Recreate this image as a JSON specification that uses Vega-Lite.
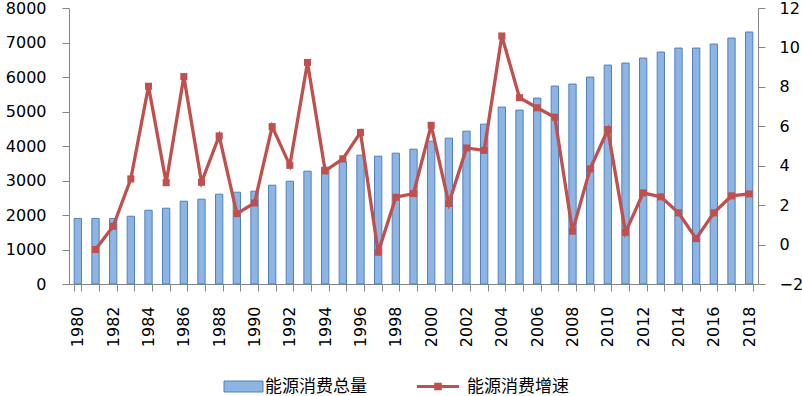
{
  "$schema": "https://vega.github.io/schema/vega-lite/v6.json",
  "width": 689,
  "height": 276,
  "autosize": {"type": "none"},
  "padding": {"left": 69, "top": 8, "right": 44, "bottom": 112},
  "background": "white",
  "config": {
    "view": {"stroke": null},
    "font": "DejaVu Sans",
    "axis": {
      "grid": false,
      "title": null,
      "domainColor": "#868686",
      "tickColor": "#868686",
      "tickSize": 7,
      "labelColor": "#000000",
      "labelFont": "DejaVu Sans",
      "labelFontSize": 16,
      "labelOverlap": false
    }
  },
  "data": {
    "values": [
      {"year": 1980, "total": 1900, "growth": null},
      {"year": 1981, "total": 1900, "growth": -0.25},
      {"year": 1982, "total": 1900, "growth": 0.93},
      {"year": 1983, "total": 1964, "growth": 3.33},
      {"year": 1984, "total": 2138, "growth": 8.03},
      {"year": 1985, "total": 2197, "growth": 3.14},
      {"year": 1986, "total": 2400, "growth": 8.52},
      {"year": 1987, "total": 2458, "growth": 3.16},
      {"year": 1988, "total": 2603, "growth": 5.51},
      {"year": 1989, "total": 2661, "growth": 1.57},
      {"year": 1990, "total": 2690, "growth": 2.11},
      {"year": 1991, "total": 2864, "growth": 5.98},
      {"year": 1992, "total": 2980, "growth": 4.02},
      {"year": 1993, "total": 3270, "growth": 9.24},
      {"year": 1994, "total": 3386, "growth": 3.74},
      {"year": 1995, "total": 3540, "growth": 4.35},
      {"year": 1996, "total": 3734, "growth": 5.69},
      {"year": 1997, "total": 3705, "growth": -0.39},
      {"year": 1998, "total": 3792, "growth": 2.40},
      {"year": 1999, "total": 3908, "growth": 2.59},
      {"year": 2000, "total": 4141, "growth": 6.05},
      {"year": 2001, "total": 4228, "growth": 2.08},
      {"year": 2002, "total": 4431, "growth": 4.90},
      {"year": 2003, "total": 4634, "growth": 4.78},
      {"year": 2004, "total": 5128, "growth": 10.58},
      {"year": 2005, "total": 5041, "growth": 7.45},
      {"year": 2006, "total": 5389, "growth": 6.94},
      {"year": 2007, "total": 5737, "growth": 6.46},
      {"year": 2008, "total": 5795, "growth": 0.68},
      {"year": 2009, "total": 5998, "growth": 3.84},
      {"year": 2010, "total": 6346, "growth": 5.83},
      {"year": 2011, "total": 6404, "growth": 0.62},
      {"year": 2012, "total": 6549, "growth": 2.62},
      {"year": 2013, "total": 6723, "growth": 2.42},
      {"year": 2014, "total": 6839, "growth": 1.61},
      {"year": 2015, "total": 6839, "growth": 0.30},
      {"year": 2016, "total": 6955, "growth": 1.61},
      {"year": 2017, "total": 7129, "growth": 2.47},
      {"year": 2018, "total": 7304, "growth": 2.57}
    ]
  },
  "encoding": {
    "x": {
      "field": "year",
      "type": "ordinal",
      "scale": {"paddingInner": 0.587, "paddingOuter": 0.2935},
      "axis": {
        "labelAngle": -90,
        "labelPadding": 15,
        "tickBand": "extent",
        "labelExpr": "datum.value % 2 == 0 ? datum.value : ''"
      }
    }
  },
  "layer": [
    {
      "mark": {"type": "bar", "stroke": "#4F81BD", "strokeWidth": 1},
      "encoding": {
        "y": {
          "field": "total",
          "type": "quantitative",
          "scale": {"domain": [0, 8000], "nice": false},
          "axis": {"orient": "left", "values": [0, 1000, 2000, 3000, 4000, 5000, 6000, 7000, 8000], "format": "d", "labelPadding": 16, "labelOverlap": false}
        },
        "fill": {
          "datum": "能源消费总量",
          "scale": {"range": ["#8DB4E2"]},
          "legend": {
            "orient": "none",
            "legendX": 166,
            "legendY": 370,
            "title": null,
            "padding": 0,
            "symbolType": "M-3.545,-1H3.545V1H-3.545Z",
            "symbolSize": 121,
            "symbolStrokeColor": "#4F81BD",
            "symbolStrokeWidth": 1,
            "labelFont": "Noto Sans CJK SC",
            "labelFontSize": 17,
            "labelColor": "#000000",
            "labelOffset": 13
          }
        }
      }
    },
    {
      "layer": [
        {
          "mark": {"type": "line", "color": "#C0504D", "strokeWidth": 3.3},
          "encoding": {
            "y": {
              "field": "growth",
              "type": "quantitative",
              "scale": {"domain": [-2, 12], "nice": false},
              "axis": {"orient": "right", "values": [-2, 0, 2, 4, 6, 8, 10, 12], "format": "d", "labelPadding": 14, "labelOverlap": false, "labelBound": false}
            }
          }
        },
        {
          "mark": {"type": "point", "shape": "square", "filled": true, "size": 50, "opacity": 1},
          "encoding": {
            "y": {"field": "growth", "type": "quantitative", "axis": {"orient": "right", "values": [-2, 0, 2, 4, 6, 8, 10, 12], "format": "d", "labelPadding": 14, "labelOverlap": false, "labelBound": false}},
            "color": {
              "datum": "能源消费增速",
              "scale": {"range": ["#C0504D"]},
              "legend": {
                "orient": "none",
                "legendX": 360.5,
                "legendY": 370,
                "title": null,
                "padding": 0,
                "symbolType": "M-3.82,-0.27H3.82V0.27H-3.82Z M-0.69,-0.69H0.69V0.69H-0.69Z",
                "symbolSize": 121,
                "symbolStrokeWidth": 0,
                "symbolOpacity": 1,
                "labelFont": "Noto Sans CJK SC",
                "labelFontSize": 17,
                "labelColor": "#000000",
                "labelOffset": 20.5
              }
            }
          }
        }
      ]
    }
  ],
  "resolve": {"scale": {"y": "independent"}}
}
